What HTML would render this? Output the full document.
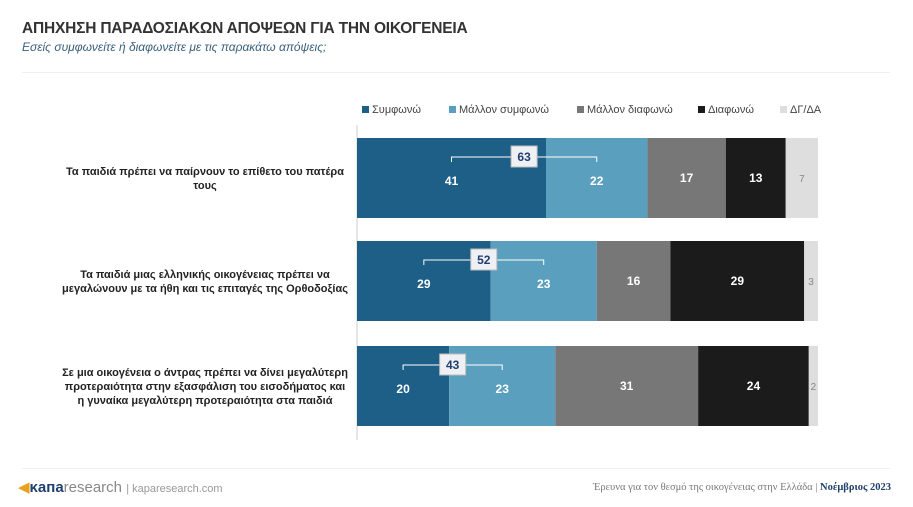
<!DOCTYPE html>
<html><head><meta charset="utf-8"><style>
body{margin:0;width:913px;height:507px;background:#fff;font-family:"Liberation Sans",sans-serif;position:relative;overflow:hidden}
.t{position:absolute}
</style></head><body>
<div class="t" style="left:22px;top:20px;font-size:15.5px;font-weight:bold;color:#333;letter-spacing:-0.2px">ΑΠΗΧΗΣΗ ΠΑΡΑΔΟΣΙΑΚΩΝ ΑΠΟΨΕΩΝ ΓΙΑ ΤΗΝ ΟΙΚΟΓΕΝΕΙΑ</div>
<div class="t" style="left:22px;top:40px;font-size:12px;font-style:italic;color:#3a5f7d">Εσείς συμφωνείτε ή διαφωνείτε με τις παρακάτω απόψεις;</div>
<div class="t" style="left:22px;top:72px;width:868px;height:1px;background:#eee"></div>
<svg id="c" class="t" style="left:0;top:0" width="913" height="507"></svg>
<div class="t" style="left:22px;top:468px;width:868px;height:1px;background:#eee"></div>
<div class="t" style="left:18px;top:478px;font-size:15px;color:#555"><span style="color:#e8a020">◀</span><b style="color:#1f3f6e">κапа</b><span style="color:#888">research</span> <span style="color:#999;font-size:11px">| kaparesearch.com</span></div>
<div class="t" style="right:22px;top:482px;font-size:10.5px;color:#777;font-family:'Liberation Serif',serif">Έρευνα για τον θεσμό της οικογένειας στην Ελλάδα | <b style="color:#1f3f6e">Νοέμβριος 2023</b></div>
<script>
const categories=["Τα παιδιά πρέπει να παίρνουν το επίθετο του πατέρα|τους","Τα παιδιά μιας ελληνικής οικογένειας πρέπει να|μεγαλώνουν με τα ήθη και τις επιταγές της Ορθοδοξίας","Σε μια οικογένεια ο άντρας πρέπει να δίνει μεγαλύτερη|προτεραιότητα στην εξασφάλιση του εισοδήματος και|η γυναίκα μεγαλύτερη προτεραιότητα στα παιδιά"];
const seriesNames=["Συμφωνώ","Μάλλον συμφωνώ","Μάλλον διαφωνώ","Διαφωνώ","ΔΓ/ΔΑ"];
const agree=[41,29,20];
const ratherAgree=[22,23,23];
const ratherDisagree=[17,16,31];
const disagree=[13,29,24];
const dk=[7,3,2];
const totals=[63,52,43];
const colors=["#1d5f87","#5b9fbe","#777","#1b1b1b","#dedede"];
const txt=["#fff","#fff","#fff","#fff","#888"];
const svg=document.getElementById('c');const NS="http://www.w3.org/2000/svg";
const x0=357,W=461;const xs=v=>x0+v/100*W;
const rowTop=[138,241,346],bh=80;
function el(t,a,p){const e=document.createElementNS(NS,t);for(const k in a)e.setAttribute(k,a[k]);(p||svg).appendChild(e);return e;}
const series=[agree,ratherAgree,ratherDisagree,disagree,dk];
// legend
const lx=[362,449,577,698,780];
seriesNames.forEach((n,i)=>{
 const s=el('rect',{x:lx[i],y:106,width:7,height:7,fill:colors[i]});
 
 const t=el('text',{x:lx[i]+10,y:113,'font-size':11,fill:'#444'});t.textContent=n;
 
});
const ax=el('line',{x1:x0,x2:x0,y1:125,y2:440,stroke:'#ccc'});

categories.forEach((c,r)=>{
 let acc=0;const y=rowTop[r];const mids=[];
 series.forEach((s,i)=>{
  const v=s[r];const a=xs(acc),b=xs(acc+v);
  const rc=el('rect',{x:a,y:y,width:b-a,height:bh,fill:colors[i]});
  
  mids.push((a+b)/2);
  const t=el('text',{x:(a+b)/2,y:y+bh/2+4+(i<2?3:0),'text-anchor':'middle','font-size':i==4?10:12,'font-weight':i==4?'normal':'bold',fill:txt[i]});
  t.textContent=v;
  acc+=v;
 });
 const by=y+19;
 const br=el('path',{d:`M${mids[0]} ${by+5}V${by}H${mids[1]}V${by+5}`,fill:'none',stroke:'#fff','stroke-width':1});
 
 const cx=(mids[0]+mids[1])/2;
 const bx=el('rect',{x:cx-13,y:by-11,width:26,height:21,fill:'#eef0f3',stroke:'#bbb'});
 
 const tt=el('text',{x:cx,y:by+4,'text-anchor':'middle','font-size':12,'font-weight':'bold',fill:'#1f3f6e'});
 tt.textContent=totals[r];
 const lines=c.split('|');
 lines.forEach((l,k)=>{
  const t=el('text',{x:205,y:y+bh/2+4+(k-(lines.length-1)/2)*14,'text-anchor':'middle','font-size':11,'font-weight':'bold',fill:'#222'});
  t.textContent=l;
 });
});
</script>
</body></html>
